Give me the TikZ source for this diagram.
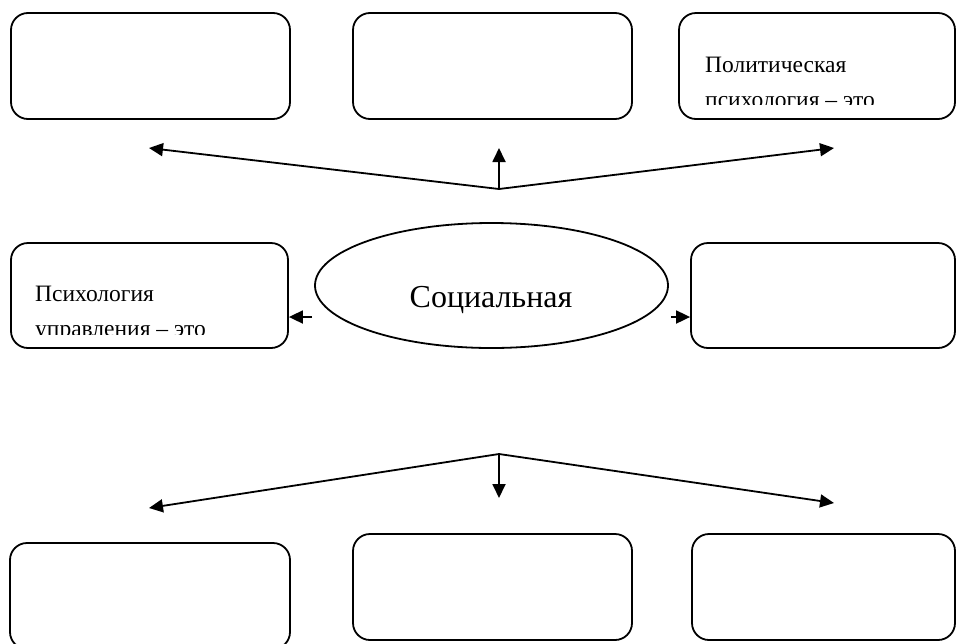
\documentclass[tikz,border=0pt]{standalone}
\usepackage{fontspec}
\setmainfont{Liberation Serif}
\usetikzlibrary{arrows.meta,shapes.geometric}
\begin{document}
\begin{tikzpicture}[x=1pt,y=-1pt,
  box/.style={draw,line width=1.8pt,rounded corners=17pt,inner sep=0pt},
  conn/.style={line width=1.8pt,-{Triangle[length=14pt,width=13pt]}},
  lbl/.style={anchor=base west,inner sep=0pt,font=\fontsize{23.5}{28}\selectfont}]
\useasboundingbox[fill=white] (0,0) rectangle (957,643);
% top row
\node[box,minimum width=279pt,minimum height=106pt] (tl) at (150.5,66) {};
\node[box,minimum width=279pt,minimum height=106pt] (tm) at (492.5,66) {};
\node[box,minimum width=276pt,minimum height=106pt] (tr) at (817,66) {};
% middle row
\node[box,minimum width=277pt,minimum height=105pt] (ml) at (149.5,295.5) {};
\node[draw,line width=1.8pt,ellipse,inner sep=0pt,minimum width=353pt,minimum height=125pt] (soc) at (491.5,285.5) {};
\node[anchor=base,inner sep=0pt,font=\fontsize{32}{38}\selectfont] (soct) at (491,307) {Социальная};
\node[box,minimum width=264pt,minimum height=105pt] (mr) at (823,295.5) {};
% bottom row
\node[box,minimum width=280pt,minimum height=106pt] (bl) at (150,596) {};
\node[box,minimum width=279pt,minimum height=106pt] (bm) at (492.5,587) {};
\node[box,minimum width=263pt,minimum height=106pt] (br) at (823.5,587) {};
% clipped texts
\begin{scope}
  \clip (679,13) rectangle (955,104);
  \node[lbl] (trt1) at (705,72) {Политическая};
  \node[lbl] (trt2) at (705,107) {психология – это};
\end{scope}
\begin{scope}
  \clip (10,243) rectangle (288,334);
  \node[lbl] (mlt1) at (35,301) {Психология};
  \node[lbl] (mlt2) at (35,336) {управления – это};
\end{scope}
% top connectors
\coordinate (tv) at (499,189);
\coordinate (tla) at (149,148);
\coordinate (tua) at (499,148);
\coordinate (tra) at (834,148);
\draw[conn] (tv) -- (tla);
\draw[conn] (tv) -- (tua);
\draw[conn] (tv) -- (tra);
% middle connectors
\coordinate (msl) at (312,317);
\coordinate (msr) at (671,317);
\draw[conn] (msl) -- (ml.east |- msl);
\draw[conn] (msr) -- (mr.west |- msr);
% bottom connectors
\coordinate (bv) at (499,454);
\coordinate (bla) at (149,508);
\coordinate (bda) at (499,498);
\coordinate (bra) at (834,503);
\draw[conn] (bv) -- (bla);
\draw[conn] (bv) -- (bda);
\draw[conn] (bv) -- (bra);
\end{tikzpicture}
\end{document}
